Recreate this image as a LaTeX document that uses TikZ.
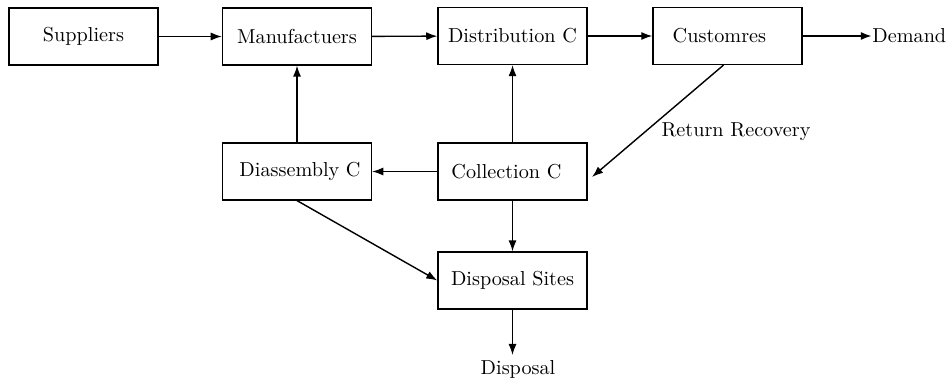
\documentclass[tikz,border=0pt]{standalone}
\usetikzlibrary{arrows.meta,calc}
\begin{document}
\begin{tikzpicture}[x=0.495pt,y=-0.495pt,
  box/.style={draw,line width=0.6pt,minimum width=73.8pt,minimum height=28.2pt,inner sep=0pt,font=\normalsize},
  conn/.style={line width=0.7pt,-{Latex[length=5.5pt,width=4pt]}},
  lbl/.style={inner sep=0pt,font=\normalsize}]
\useasboundingbox (0,0) rectangle (952,382);
\node[box] (sup) at (83.5,36.5) {Suppliers};
\node[box] (man) at (297,36.5) {Manufactuers};
\node[box] (dis) at (512.5,36) {Distribution C};
\node[box] (cus) at (727.5,36) {\hspace{-8pt}Customres};
\node[lbl,anchor=west] (dem) at (872,36) {Demand};
\node[box] (dia) at (297,171.5) {\hspace{3pt}Diassembly C};
\node[box] (col) at (512.5,171.5) {\hspace{-6pt}Collection C};
\node[box] (dsp) at (512.5,280.5) {Disposal Sites};
\node[lbl] (dsl) at (518,369) {Disposal};
\node[lbl] (rrl) at (736,132) {Return Recovery};
\coordinate (rrend) at (592,177);
\coordinate (dspend) at (512.5,355);

\draw[conn] (sup) -- (man);
\draw[conn] (man) -- (dis);
\draw[conn] (dis) -- (cus);
\draw[conn,line width=1pt] (cus) -- (dem);
\draw[conn] (cus.south) ++(-4,0) -- (rrend);
\draw[conn] (col) -- (dia);
\draw[conn] (dia) -- (man);
\draw[conn] (col) -- (dis);
\draw[conn] (col) -- (dsp);
\draw[conn] (dia.south) -- (dsp.west);
\draw[conn] (dsp.south) -- (dspend);
\end{tikzpicture}
\end{document}
